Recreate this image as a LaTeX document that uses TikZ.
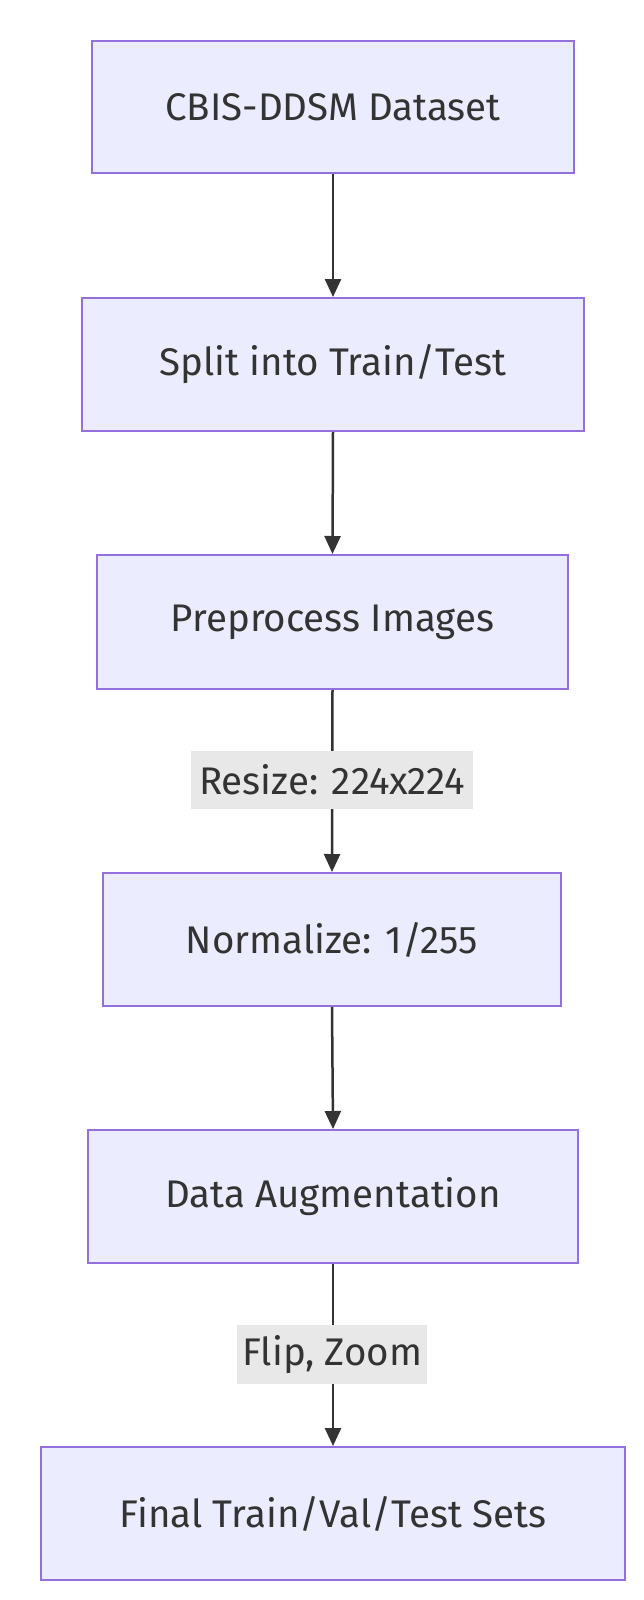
\documentclass[tikz,border=0pt]{standalone}
\usepackage{fontspec}
\setmainfont{Fira Sans}
\usetikzlibrary{arrows.meta}
\definecolor{boxfill}{HTML}{ECECFF}
\definecolor{boxline}{HTML}{9370DB}
\definecolor{ink}{HTML}{333333}
\definecolor{lblbg}{HTML}{E8E8E8}
\tikzset{
  stepbox/.style={draw=boxline, fill=boxfill, line width=2pt, text=ink, font=\fontsize{38.5}{44}\selectfont, inner sep=0pt, anchor=north west},
  flow/.style={draw=ink, line width=2.5pt, -{Triangle[length=18pt,width=16pt]}},
  lbl/.style={fill=lblbg, text=ink, font=\fontsize{38.5}{44}\selectfont, inner sep=0pt, anchor=north west}
}
\begin{document}
\begin{tikzpicture}[x=1pt,y=-1pt]
\useasboundingbox[fill=white] (0,0) rectangle (644,1600);
\node[stepbox, minimum width=482pt, minimum height=132pt] (a) at (91,40) {CBIS-DDSM Dataset};
\node[stepbox, minimum width=502pt, minimum height=133pt] (b) at (81,297) {Split into Train/Test};
\node[stepbox, minimum width=471pt, minimum height=134pt] (c) at (96,554) {Preprocess Images};
\node[stepbox, minimum width=458pt, minimum height=133pt] (d) at (102,872) {Normalize: 1/255};
\node[stepbox, minimum width=490pt, minimum height=133pt] (e) at (87,1129) {Data Augmentation};
\node[stepbox, minimum width=584pt, minimum height=133pt] (f) at (40,1446) {Final Train/Val/Test Sets};
\draw[flow] (a.south) -- (b.north);
\draw[flow] (b.south) -- (c.north);
\draw[flow] (c.south) -- (d.north);
\draw[flow] (d.south) -- (e.north);
\draw[flow] (e.south) -- (f.north);
\node[lbl, minimum width=282pt, minimum height=58pt] (l1) at (191,751) {Resize: 224x224};
\node[lbl, minimum width=190pt, minimum height=59pt] (l2) at (237,1325) {Flip, Zoom};
\end{tikzpicture}
\end{document}
